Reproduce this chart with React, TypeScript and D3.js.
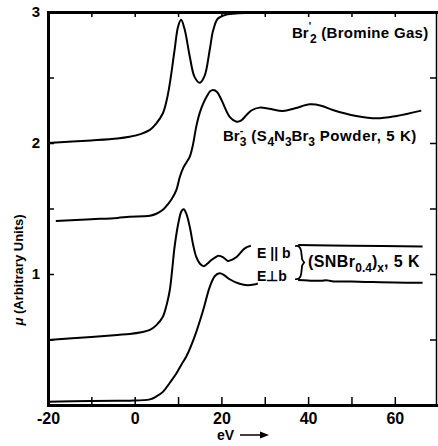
import { useEffect, useRef } from "react";
import * as d3 from "d3";

type Pt = [number, number];

// energy (eV) vs mu
const br2Gas: Pt[] = [
  [-20, 2.0], [-10, 2.02], [-4, 2.035], [-1.2, 2.048], [1.5, 2.07], [3.5, 2.1],
  [5, 2.15], [6.5, 2.227], [7.4, 2.33], [8.1, 2.455], [9.2, 2.71], [10.0, 2.888],
  [10.7, 2.94], [11.5, 2.87], [12.7, 2.66], [13.8, 2.505], [15.0, 2.46], [16.1, 2.51],
  [17.3, 2.71], [18.1, 2.86], [19.2, 2.95], [21.1, 2.98], [24, 2.99], [30, 2.995],
  [40, 3.0], [69.4, 3.0],
];

const br3Powder: Pt[] = [
  [-18.2, 1.405], [-10, 1.418], [-4, 1.428], [-1.2, 1.437], [2, 1.44], [3.5, 1.445],
  [5, 1.46], [6.5, 1.49], [7.6, 1.53], [8.5, 1.57], [9.6, 1.64], [10.4, 1.74],
  [11.2, 1.81], [11.9, 1.85], [12.7, 1.895], [13.4, 1.98], [14.2, 2.125], [15.0, 2.23],
  [15.8, 2.3], [16.7, 2.36], [17.4, 2.395], [18.1, 2.405], [19, 2.39], [20.0, 2.33],
  [21.9, 2.2], [23.5, 2.163], [24.5, 2.17], [25.8, 2.214], [27, 2.25], [28.8, 2.27],
  [31, 2.262], [34.2, 2.244], [37, 2.265], [40.4, 2.295], [43, 2.285], [45.7, 2.252],
  [51.1, 2.206], [55.8, 2.188], [60.4, 2.206], [66.1, 2.247],
];

const snbrPar: Pt[] = [
  [-20, 0.496], [-10, 0.52], [-4, 0.535], [-1.15, 0.542], [1.5, 0.555], [3.5, 0.573],
  [5, 0.61], [6.5, 0.674], [7.4, 0.77], [8.1, 0.878], [8.7, 1.05], [9.2, 1.208],
  [10.2, 1.41], [10.8, 1.48], [11.3, 1.494], [11.9, 1.46], [12.7, 1.36], [13.5, 1.22],
  [14.2, 1.13], [15.0, 1.08], [15.9, 1.06], [16.8, 1.08], [17.7, 1.107], [19.4, 1.14],
  [20.5, 1.125], [21.5, 1.1], [22.5, 1.11], [23.5, 1.13], [25.4, 1.196], [26.8, 1.215],
];
const snbrParTail: Pt[] = [[37.7, 1.221], [50, 1.216], [66.4, 1.21]];

const snbrPerp: Pt[] = [
  [-20, 0.025], [-10, 0.03], [-4, 0.032], [-1.15, 0.033], [3.5, 0.043], [5, 0.065],
  [6.5, 0.1], [8.1, 0.17], [9.6, 0.24], [10.8, 0.31], [11.9, 0.37], [13.8, 0.52],
  [15.8, 0.725], [17.3, 0.9], [18.5, 0.985], [19.6, 1.005], [20.7, 0.99], [21.9, 0.96],
  [24.2, 0.925], [26.1, 0.915], [27.5, 0.92], [28.4, 0.928],
];
const snbrPerpTail: Pt[] = [
  [37.7, 0.954], [40, 0.95], [43, 0.948], [44.2, 0.953], [45.5, 0.945], [50, 0.942],
  [55, 0.938], [60, 0.935], [66.4, 0.933],
];

const xTicks = [-20, -10, 0, 10, 20, 30, 40, 50, 60];
const xLabels = [-20, 0, 20, 40, 60];
const yTicks = [0.5, 1, 1.5, 2, 2.5, 3];
const yLabels = [1, 2, 3];

const FONT = "'Liberation Sans', Arial, Helvetica, sans-serif";

export default function App() {
  const ref = useRef<SVGSVGElement>(null);

  useEffect(() => {
    const width = 438;
    const height = 446;
    const margin = { top: 12, right: 2, bottom: 41, left: 48 };

    const svg = d3.select(ref.current);
    svg.selectAll("*").remove();

    const x = d3.scaleLinear().domain([-20, 69.5]).range([margin.left, width - margin.right]);
    const y = d3.scaleLinear().domain([0, 3]).range([height - margin.bottom, margin.top]);

    const styleAxis = (g: any, domainWidth: number, fontSize = 15) => {
      g.attr("font-family", FONT).attr("font-size", fontSize).attr("font-weight", "bold");
      g.select(".domain").attr("stroke-width", domainWidth).attr("stroke-linecap", "square");
      g.selectAll(".tick line").attr("stroke-width", 1.5);
      g.selectAll(".tick text").attr("fill", "black");
    };

    // bottom axis
    svg
      .append("g")
      .attr("transform", "translate(0," + y(0) + ")")
      .call(
        d3
          .axisBottom(x)
          .tickValues(xTicks)
          .tickSizeInner(-8)
          .tickSizeOuter(0)
          .tickPadding(8)
          .tickFormat((d: any) => (xLabels.includes(+d) ? String(d) : ""))
      )
      .call((g: any) => styleAxis(g, 3, 16));

    // top axis, ticks only
    svg
      .append("g")
      .attr("transform", "translate(0," + y(3) + ")")
      .call(
        d3
          .axisTop(x)
          .tickValues(xTicks.filter((v) => v > -20))
          .tickSizeInner(-5)
          .tickSizeOuter(0)
          .tickFormat(() => "")
      )
      .call((g: any) => styleAxis(g, 3));

    // left axis
    svg
      .append("g")
      .attr("transform", "translate(" + x(-20) + ",0)")
      .call(
        d3
          .axisLeft(y)
          .tickValues(yTicks)
          .tickSizeInner(-6)
          .tickSizeOuter(0)
          .tickPadding(8)
          .tickFormat((d: any) => (yLabels.includes(+d) ? String(d) : ""))
      )
      .call((g: any) => styleAxis(g, 3));

    // right axis, thin
    svg
      .append("g")
      .attr("transform", "translate(" + (width - margin.right) + ",0)")
      .call(
        d3
          .axisRight(y)
          .tickValues(yTicks.filter((v) => v < 3))
          .tickSizeInner(-6)
          .tickSizeOuter(0)
          .tickFormat(() => "")
      )
      .call((g: any) => styleAxis(g, 1.5));

    // spectra
    const line = d3
      .line<Pt>()
      .x((d) => x(d[0]))
      .y((d) => y(d[1]))
      .curve(d3.curveCatmullRom.alpha(0.5));

    [br2Gas, br3Powder, snbrPar, snbrParTail, snbrPerp, snbrPerpTail].forEach((s) => {
      svg
        .append("path")
        .datum(s)
        .attr("d", line)
        .attr("fill", "none")
        .attr("stroke", "black")
        .attr("stroke-width", 2);
    });

    // bracket joining the two (SNBr0.4)x tails
    const bx = x(snbrParTail[0][0]);
    const top = y(snbrParTail[0][1]);
    const bot = y(snbrPerpTail[0][1]);
    const mid = (top + bot) / 2;
    svg
      .append("path")
      .attr(
        "d",
        `M${bx - 3},${top + 1} Q${bx + 2},${top} ${bx + 3},${top + 6} L${bx + 4},${mid - 3} L${bx + 6},${mid} L${bx + 4},${mid + 3} L${bx + 3},${bot - 6} Q${bx + 2},${bot} ${bx - 3},${bot - 1}`
      )
      .attr("fill", "none")
      .attr("stroke", "black")
      .attr("stroke-width", 1.8);

    const label = (px: number, py: number, size = 15) =>
      svg
        .append("text")
        .attr("x", px)
        .attr("y", py)
        .attr("font-family", FONT)
        .attr("font-size", size)
        .attr("font-weight", "bold")
        .attr("fill", "black");

    // Br2 label
    const t1 = label(292, 38);
    t1.append("tspan").text("Br");
    t1.append("tspan").attr("dy", -8).attr("font-size", 10).text("'");
    t1.append("tspan").attr("dx", -1).attr("dy", 13).attr("font-size", 12).text("2");
    t1.append("tspan").attr("dy", -5).attr("letter-spacing", 0.3).text(" (Bromine Gas)");

    // Br3- label
    const t2 = label(223, 141);
    t2.append("tspan").text("Br");
    t2.append("tspan").attr("dy", -7).attr("font-size", 11).text("-");
    t2.append("tspan").attr("dx", -3.6).attr("dy", 12).attr("font-size", 12).text("3");
    t2.append("tspan").attr("dy", -5).attr("letter-spacing", 0.6).text(" (S");
    t2.append("tspan").attr("dy", 5).attr("font-size", 12).text("4");
    t2.append("tspan").attr("dy", -5).text("N");
    t2.append("tspan").attr("dy", 5).attr("font-size", 12).text("3");
    t2.append("tspan").attr("dy", -5).text("Br");
    t2.append("tspan").attr("dy", 5).attr("font-size", 12).text("3");
    t2.append("tspan").attr("dy", -5).attr("letter-spacing", 0.6).text(" Powder, 5  K)");

    // polarisation labels
    label(257, 258, 14).text("E || b");
    label(257, 281, 14).text("E\u22A5b");

    const t3 = label(308, 267, 16);
    t3.append("tspan").attr("letter-spacing", 0.4).text("(SNBr");
    t3.append("tspan").attr("dy", 5).attr("font-size", 12).text("0.4");
    t3.append("tspan").attr("dy", -5).text(")");
    t3.append("tspan").attr("dy", 5).attr("font-size", 12).text("x");
    t3.append("tspan").attr("dy", -5).attr("letter-spacing", 0.4).text(", 5  K");

    // axis titles
    const yt = svg
      .append("text")
      .attr("transform", "translate(23," + (y(1) - 4) + ")rotate(-90)")
      .attr("text-anchor", "middle")
      .attr("font-family", FONT)
      .attr("font-size", 13)
      .attr("font-weight", "bold")
      .attr("fill", "black");
    yt.append("tspan").attr("font-style", "italic").text("\u03BC");
    yt.append("tspan").text(" (Arbitrary Units)");

    svg
      .append("text")
      .attr("x", 217)
      .attr("y", 440)
      .attr("font-family", FONT)
      .attr("font-size", 14)
      .attr("font-weight", "bold")
      .attr("fill", "black")
      .text("eV");
    svg
      .append("line")
      .attr("x1", 240)
      .attr("x2", 262)
      .attr("y1", 435)
      .attr("y2", 435)
      .attr("stroke", "black")
      .attr("stroke-width", 1.5);
    svg
      .append("path")
      .attr("d", "M260,431.5 L269,435 L260,438.5 Z")
      .attr("fill", "black");
  }, []);

  return (
    <svg
      ref={ref}
      width={438}
      height={446}
      style={{ position: "absolute", left: 0, top: 0, background: "white" }}
    />
  );
}
